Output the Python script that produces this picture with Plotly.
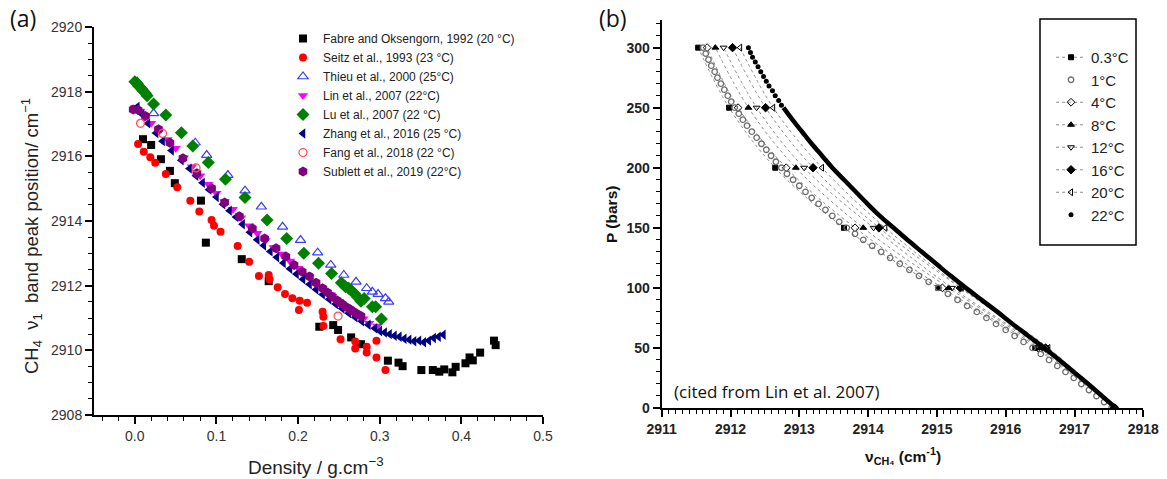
import plotly.graph_objects as go

W, H = 1167, 479

# ---------------- Panel (a): CH4 v1 band position vs density ----------------
fabre_rho = [0.010, 0.020, 0.032, 0.043, 0.049, 0.081, 0.087, 0.131, 0.164, 0.226, 0.243, 0.249,
             0.265, 0.277, 0.310, 0.323, 0.328, 0.351, 0.365, 0.373, 0.379, 0.389, 0.393, 0.405,
             0.410, 0.414, 0.423, 0.440, 0.442]
fabre_nu = [2916.53, 2916.35, 2915.91, 2915.55, 2915.17, 2914.63, 2913.33, 2912.82, 2912.14, 2910.73,
            2910.78, 2910.63, 2910.40, 2910.19, 2909.68, 2909.62, 2909.51, 2909.39, 2909.39, 2909.34,
            2909.41, 2909.32, 2909.49, 2909.60, 2909.78, 2909.69, 2909.93, 2910.30, 2910.16]

seitz_rho = [0.004, 0.011, 0.019, 0.025, 0.038, 0.052, 0.068, 0.079, 0.094, 0.097, 0.105, 0.126,
             0.140, 0.152, 0.164, 0.165, 0.175, 0.184, 0.193, 0.202, 0.201, 0.211, 0.230, 0.231,
             0.231, 0.252, 0.270, 0.270, 0.284, 0.284, 0.296, 0.296, 0.307]
seitz_nu = [2916.38, 2916.14, 2915.97, 2915.80, 2915.45, 2915.04, 2914.63, 2914.29, 2914.03, 2913.85,
            2913.67, 2913.23, 2912.74, 2912.30, 2912.33, 2912.20, 2911.95, 2911.74, 2911.61, 2911.53,
            2911.25, 2911.47, 2911.19, 2911.04, 2910.75, 2910.34, 2910.27, 2910.06, 2910.11, 2909.93,
            2910.30, 2909.78, 2909.39]

thieu_rho = [0.003, 0.023, 0.074, 0.088, 0.114, 0.135, 0.155, 0.181, 0.203, 0.224, 0.240, 0.256,
             0.271, 0.284, 0.291, 0.298, 0.307, 0.311]
thieu_nu = [2918.31, 2917.33, 2916.42, 2916.04, 2915.42, 2914.94, 2914.44, 2913.82, 2913.41, 2913.02,
            2912.64, 2912.33, 2912.12, 2911.92, 2911.81, 2911.74, 2911.61, 2911.50]

lin_rho = [0.000, 0.006, 0.012, 0.020, 0.030, 0.040, 0.050, 0.060, 0.070, 0.080, 0.090, 0.100,
           0.110, 0.120, 0.130, 0.140, 0.150, 0.160, 0.170, 0.180, 0.190, 0.200, 0.210, 0.220,
           0.230, 0.240, 0.250, 0.260, 0.270, 0.280, 0.287, 0.297]
lin_nu = [2917.50, 2917.40, 2917.22, 2917.02, 2916.78, 2916.52, 2916.25, 2915.96, 2915.68, 2915.40,
          2915.14, 2914.86, 2914.60, 2914.36, 2914.10, 2913.85, 2913.62, 2913.40, 2913.18, 2912.98,
          2912.76, 2912.54, 2912.33, 2912.12, 2911.92, 2911.72, 2911.52, 2911.33, 2911.15, 2910.98,
          2910.84, 2910.75]

lu_rho = [0.000, 0.003, 0.005, 0.008, 0.010, 0.013, 0.015, 0.023, 0.038, 0.057, 0.071, 0.090,
          0.111, 0.135, 0.162, 0.186, 0.207, 0.225, 0.241, 0.253, 0.258, 0.262, 0.265, 0.269,
          0.273, 0.277, 0.281, 0.291, 0.295, 0.302]
lu_nu = [2918.31, 2918.25, 2918.17, 2918.10, 2918.03, 2917.95, 2917.87, 2917.62, 2917.28, 2916.73,
         2916.32, 2915.81, 2915.29, 2914.73, 2914.03, 2913.46, 2913.00, 2912.69, 2912.38, 2912.09,
         2911.97, 2911.92, 2911.86, 2911.76, 2911.64, 2911.52, 2911.60, 2911.35, 2911.35, 2910.97]

zhang_rho = [0.003, 0.009, 0.016, 0.026, 0.034, 0.045, 0.057, 0.067, 0.075, 0.083, 0.091, 0.100,
             0.108, 0.116, 0.124, 0.132, 0.141, 0.150, 0.158, 0.166, 0.174, 0.182, 0.190, 0.198,
             0.206, 0.214, 0.222, 0.230, 0.238, 0.246, 0.254, 0.262, 0.270, 0.278, 0.286, 0.294,
             0.300, 0.306, 0.312, 0.318, 0.324, 0.330, 0.336, 0.342, 0.348, 0.354, 0.360, 0.366,
             0.372, 0.378]
zhang_nu = [2917.53, 2917.30, 2917.02, 2916.72, 2916.47, 2916.18, 2915.88, 2915.62, 2915.40, 2915.18,
            2914.97, 2914.74, 2914.52, 2914.32, 2914.12, 2913.90, 2913.65, 2913.42, 2913.24, 2913.06,
            2912.88, 2912.70, 2912.52, 2912.36, 2912.20, 2912.04, 2911.88, 2911.73, 2911.58, 2911.43,
            2911.29, 2911.15, 2911.02, 2910.90, 2910.79, 2910.68, 2910.60, 2910.55, 2910.50, 2910.45,
            2910.42, 2910.36, 2910.33, 2910.28, 2910.30, 2910.25, 2910.30, 2910.38, 2910.42, 2910.48]

fang_rho = [0.007, 0.034, 0.075, 0.249]
fang_nu = [2917.02, 2916.71, 2915.64, 2911.06]

sublett_rho = [-0.002, 0.004, 0.013, 0.029, 0.043, 0.059, 0.076, 0.094, 0.110, 0.128, 0.144, 0.159,
               0.173, 0.185, 0.195, 0.205, 0.214, 0.222, 0.230, 0.236, 0.242, 0.248, 0.254, 0.259,
               0.264, 0.268, 0.272, 0.277]
sublett_nu = [2917.45, 2917.43, 2917.25, 2916.84, 2916.42, 2915.94, 2915.48, 2915.01, 2914.57, 2914.15,
              2913.77, 2913.46, 2913.16, 2912.90, 2912.64, 2912.43, 2912.28, 2912.09, 2911.92, 2911.79,
              2911.66, 2911.54, 2911.43, 2911.34, 2911.26, 2911.19, 2911.13, 2911.06]

# ---------------- Panel (b): pressure vs CH4 v1 position (Lin et al. 2007) ----------------
p_steps = [0, 50, 100, 150, 200, 250, 300]
nu_t03 = [2917.58, 2916.43, 2915.02, 2913.65, 2912.65, 2911.98, 2911.53]
nu_t4 = [2917.58, 2916.47, 2915.08, 2913.81, 2912.81, 2912.11, 2911.66]
nu_t8 = [2917.58, 2916.50, 2915.17, 2913.93, 2912.95, 2912.26, 2911.78]
nu_t12 = [2917.58, 2916.53, 2915.22, 2914.08, 2913.07, 2912.38, 2911.90]
nu_t16 = [2917.58, 2916.58, 2915.34, 2914.16, 2913.20, 2912.51, 2912.03]
nu_t20 = [2917.58, 2916.62, 2915.36, 2914.25, 2913.33, 2912.62, 2912.14]

p_t1 = [300, 295, 290, 285, 280, 275, 270, 265, 260, 255, 250, 245, 240, 235, 230, 225, 220, 215,
        210, 205, 200, 195, 190, 185, 180, 175, 170, 165, 160, 155, 150, 145, 140, 135, 130, 125,
        120, 115, 110, 105, 100, 95, 90, 85, 80, 75, 70, 65, 60, 55, 50, 45, 40, 35, 30, 25, 20,
        15, 10, 5, 0]
nu_t1 = [2911.60, 2911.64, 2911.68, 2911.72, 2911.77, 2911.81, 2911.86, 2911.91, 2911.96, 2912.01,
         2912.06, 2912.12, 2912.18, 2912.24, 2912.31, 2912.38, 2912.45, 2912.52, 2912.59, 2912.66,
         2912.74, 2912.82, 2912.91, 2913.00, 2913.09, 2913.18, 2913.28, 2913.38, 2913.48, 2913.58,
         2913.69, 2913.81, 2913.93, 2914.06, 2914.19, 2914.32, 2914.46, 2914.60, 2914.74, 2914.88,
         2915.02, 2915.16, 2915.30, 2915.44, 2915.58, 2915.72, 2915.86, 2916.00, 2916.13, 2916.26,
         2916.39, 2916.51, 2916.63, 2916.75, 2916.87, 2916.99, 2917.10, 2917.21, 2917.32, 2917.43,
         2917.54]

p_t22_high = [300, 296, 292, 288, 284, 280, 276, 272, 268, 264, 260, 256, 252]
nu_t22_high = [2912.26, 2912.29, 2912.32, 2912.36, 2912.40, 2912.44, 2912.48, 2912.52, 2912.56,
               2912.61, 2912.65, 2912.70, 2912.74]
p_t22_low = [250, 240, 230, 220, 210, 200, 190, 180, 170, 160, 150, 140, 130, 120, 110, 100, 90,
             80, 70, 60, 50, 40, 30, 20, 10, 0]
nu_t22_low = [2912.77, 2912.90, 2913.04, 2913.18, 2913.33, 2913.48, 2913.65, 2913.82, 2913.99,
              2914.17, 2914.37, 2914.57, 2914.78, 2914.99, 2915.20, 2915.42, 2915.65, 2915.88,
              2916.10, 2916.33, 2916.56, 2916.78, 2916.99, 2917.20, 2917.40, 2917.60]

FONT = "Liberation Sans"
fig = go.Figure()

# ---- panel (a) traces ----
series_a = [
    ("Fabre and Oksengorn, 1992 (20 °C)", fabre_rho, fabre_nu, "square", "#000000", 8),
    ("Seitz et al., 1993 (23 °C)", seitz_rho, seitz_nu, "circle", "#ff0000", 8),
    ("Thieu et al., 2000 (25°C)", thieu_rho, thieu_nu, "triangle-up-open", "#3c3cff", 9),
    ("Lin et al., 2007 (22°C)", lin_rho, lin_nu, "triangle-down", "#ff00ff", 9),
    ("Lu et al., 2007 (22 °C)", lu_rho, lu_nu, "diamond", "#008000", 10),
    ("Zhang et al., 2016 (25 °C)", zhang_rho, zhang_nu, "triangle-left", "#000080", 9),
    ("Sublett et al., 2019 (22°C)", sublett_rho, sublett_nu, "hexagon", "#800080", 10),
    ("Fang et al., 2018 (22 °C)", fang_rho, fang_nu, "circle-open", "#ff4d4d", 8),
]
rank_a = {"Fang et al., 2018 (22 °C)": 7, "Sublett et al., 2019 (22°C)": 8}
for i, (name, xs, ys, sym, col, sz) in enumerate(series_a):
    fig.add_trace(go.Scatter(
        x=xs, y=ys, mode="markers", name=name, xaxis="x", yaxis="y", legend="legend",
        legendrank=rank_a.get(name, i + 1),
        marker=dict(symbol=sym, color=col, size=sz, line=dict(width=1.2 if "open" in sym else 0, color=col)),
    ))

# ---- panel (b) traces ----
dot_line = dict(color="#8c8c8c", width=1, dash="dot")
series_b = [
    ("0.3°C", p_steps, nu_t03, "square", 5),
    ("4°C", p_steps, nu_t4, "diamond-open", 6),
    ("8°C", p_steps, nu_t8, "triangle-up", 6),
    ("12°C", p_steps, nu_t12, "triangle-down-open", 6),
    ("16°C", p_steps, nu_t16, "diamond", 6.5),
    ("20°C", p_steps, nu_t20, "triangle-left-open", 6),
]
rank_b = {"0.3°C": 1, "4°C": 3, "8°C": 4, "12°C": 5, "16°C": 6, "20°C": 7}
for name, ps, nus, sym, sz in series_b:
    fig.add_trace(go.Scatter(
        x=nus, y=ps, mode="lines+markers", name=name, xaxis="x2", yaxis="y2", legend="legend2",
        legendrank=rank_b[name], line=dict(shape="spline", **dot_line),
        marker=dict(symbol=sym, color="#000000", size=sz, line=dict(width=1, color="#000000")),
    ))

fig.add_trace(go.Scatter(
    x=nu_t1, y=p_t1, mode="markers", name="1°C", xaxis="x2", yaxis="y2", legend="legend2",
    legendrank=2, marker=dict(symbol="circle-open", color="#6e6e6e", size=5.5, line=dict(width=1.3)),
))
fig.add_trace(go.Scatter(
    x=nu_t22_low, y=p_t22_low, mode="lines", showlegend=False, xaxis="x2", yaxis="y2",
    line=dict(color="#000000", width=4.5, shape="spline"),
))
fig.add_trace(go.Scatter(
    x=nu_t22_high, y=p_t22_high, mode="markers", name="22°C", xaxis="x2", yaxis="y2",
    legend="legend2", legendrank=8, marker=dict(symbol="circle", color="#000000", size=5),
))

# ---- axes ----
axis_common = dict(showline=True, linecolor="#000000", linewidth=2, showgrid=False, zeroline=False,
                   ticks="outside", tickcolor="#000000", mirror=False, automargin=False)

fig.update_layout(
    width=W, height=H, margin=dict(l=0, r=0, t=0, b=0, autoexpand=False),
    paper_bgcolor="white", plot_bgcolor="white",
    xaxis=dict(domain=[94 / W, 543 / W], range=[-0.05, 0.5], anchor="y", dtick=0.1, tick0=0,
               tickformat=".1f", ticklen=7, tickwidth=1.5,
               minor=dict(dtick=0.02, tick0=0, ticks="outside", ticklen=4, tickwidth=1.2, tickcolor="#000"),
               tickfont=dict(family=FONT, size=14, color="#333333"), **axis_common),
    yaxis=dict(domain=[1 - 415 / H, 1 - 27 / H], range=[2908, 2920], anchor="x", dtick=2,
               tickformat="d", ticklen=7, tickwidth=1.5,
               minor=dict(dtick=0.5, ticks="outside", ticklen=4, tickwidth=1.2, tickcolor="#000"),
               tickfont=dict(family=FONT, size=14, color="#333333"), **axis_common),
    xaxis2=dict(domain=[661.7 / W, 1143.3 / W], range=[2911, 2918], anchor="y2", dtick=1,
                tickformat="d", ticklen=7, tickwidth=1.5,
                minor=dict(dtick=0.1, ticks="outside", ticklen=4, tickwidth=1, tickcolor="#000"),
                tickfont=dict(family=FONT, size=14, color="#222222", weight="bold"), **axis_common),
    yaxis2=dict(domain=[1 - 408 / H, 1 - 20 / H], range=[0, 323], anchor="x2", dtick=50,
                tickformat="d", ticklen=7, tickwidth=1.5,
                minor=dict(dtick=10, ticks="outside", ticklen=4, tickwidth=1, tickcolor="#000"),
                tickfont=dict(family=FONT, size=14, color="#222222", weight="bold"), **axis_common),
    legend=dict(x=283 / W, y=1 - 24 / H, xanchor="left", yanchor="top", bgcolor="rgba(0,0,0,0)",
                font=dict(family=FONT, size=12, color="#222222"), tracegroupgap=0),
    legend2=dict(x=1051 / W, y=1 - 41 / H, xanchor="left", yanchor="top", bgcolor="rgba(0,0,0,0)",
                 font=dict(family=FONT, size=15, color="#222222"), tracegroupgap=0),
    showlegend=True,
)

# legend frame of panel (b)
fig.add_shape(type="rect", xref="paper", yref="paper", x0=1040 / W, x1=1136 / W,
              y0=1 - 245 / H, y1=1 - 19 / H, line=dict(color="#000000", width=1.5))

ann = [
    dict(text="(a)", x=8 / W, y=1 - 18 / H, xanchor="left", font=dict(family="Open Sans", size=23, color="#111")),
    dict(text="(b)", x=597 / W, y=1 - 18 / H, xanchor="left", font=dict(family="Open Sans", size=23, color="#111")),
    dict(text="CH<sub>4</sub>  ν<sub>1</sub>  band peak position/ cm<sup>−1</sup>", x=31 / W, y=1 - 236 / H,
         textangle=-90, font=dict(family=FONT, size=18.5, color="#222")),
    dict(text="Density / g.cm<sup>−3</sup>", x=316 / W, y=1 - 466 / H, font=dict(family=FONT, size=19, color="#222")),
    dict(text="<b>P (bars)</b>", x=612 / W, y=1 - 215 / H, textangle=-90,
         font=dict(family=FONT, size=15.5, color="#111")),
    dict(text="<b>ν<sub>CH₄</sub> (cm<sup>-1</sup>)</b>", x=903 / W, y=1 - 456 / H,
         font=dict(family=FONT, size=15.5, color="#111")),
    dict(text="(cited from Lin et al. 2007)", x=776 / W, y=1 - 391 / H,
         font=dict(family="Open Sans", size=17, color="#111")),
]
for a in ann:
    fig.add_annotation(xref="paper", yref="paper", showarrow=False, yanchor="middle",
                       **({"xanchor": "center"} | a))

fig.write_html("out.html")
